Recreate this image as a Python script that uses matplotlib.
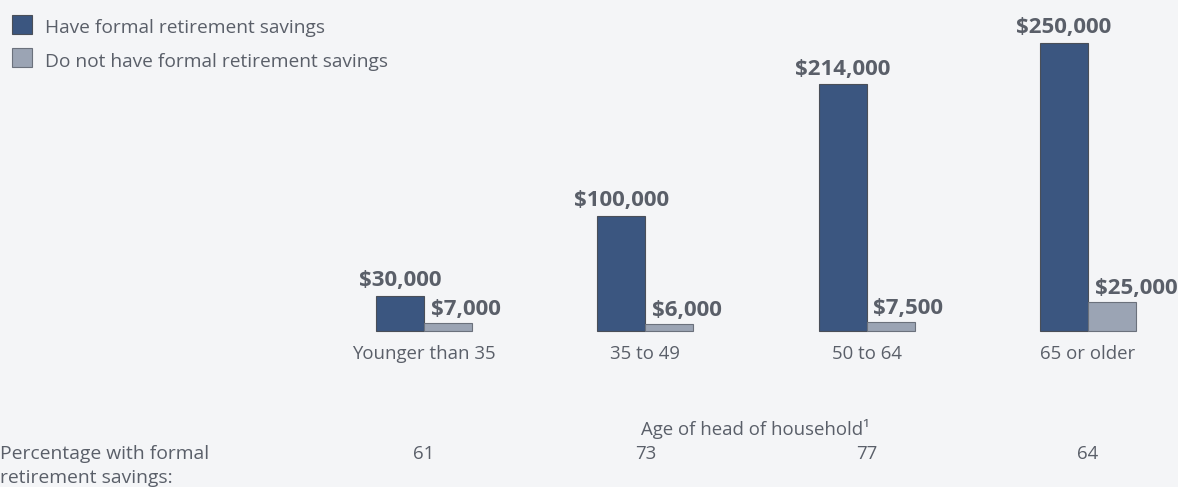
import numpy as np
import matplotlib
matplotlib.use('Agg')
import matplotlib.pyplot as plt

W, H = 1178, 487

categories = ['Younger than 35', '35 to 49', '50 to 64', '65 or older']
have_savings = [30000, 100000, 214000, 250000]
no_savings = [7000, 6000, 7500, 25000]
pct_with = [61, 73, 77, 64]

BG = '#f4f5f7'
DARK = '#3b5680'
LIGHT = '#9ba4b4'
TXT = '#5a5f69'

plt.rcParams['font.family'] = ['Open Sans', 'DejaVu Sans']
FS = 13.4

fig = plt.figure(figsize=(W / 100, H / 100), dpi=100, facecolor=BG)

# axes placed in pixel terms: group centres at 424..1088, baseline at y=331
ax_l, ax_r = 300, 1178
step = (1088 - 424) / 3
x0 = -(424 - ax_l) / step
x1 = 3 + (ax_r - 1088) / step
base_px = 331
top_px = 0
ax = fig.add_axes([ax_l / W, (H - base_px) / H, (ax_r - ax_l) / W, (base_px - top_px) / H])
ax.set_facecolor(BG)
ax.set_xlim(x0, x1)
ymax = 250000 * (base_px - top_px) / (331 - 43)
ax.set_ylim(0, ymax)

x = np.arange(len(categories))
bw = 48 / step
ax.bar(x - bw / 2, have_savings, bw, color=DARK, edgecolor='#4a4f58', linewidth=0.8, clip_on=False)
ax.bar(x + bw / 2, no_savings, bw, color=LIGHT, edgecolor='#6b717c', linewidth=0.8, clip_on=False)

for xi, v in zip(x, have_savings):
    ax.text(xi - bw / 2, v + ymax * 0.015, '${:,}'.format(v), ha='center', va='bottom',
            fontsize=16, fontweight='bold', color=TXT)
for xi, v in zip(x, no_savings):
    ax.text(xi + 0.03, v + ymax * 0.01, '${:,}'.format(v), ha='left', va='bottom',
            fontsize=16, fontweight='bold', color=TXT)

for s in ax.spines.values():
    s.set_visible(False)
ax.set_yticks([])
ax.set_xticks(x)
ax.set_xticklabels(categories, fontsize=FS, color=TXT)
ax.tick_params(axis='x', length=0, pad=10)

fig.text(755 / W, 1 - 429 / H, 'Age of head of household\u00b9', ha='center', va='center',
         fontsize=FS, color=TXT)

fig.text(0, 1 - 454 / H, 'Percentage with formal', ha='left', va='center', fontsize=FS + 0.5, color=TXT)
fig.text(0, 1 - 478 / H, 'retirement savings:', ha='left', va='center', fontsize=FS + 0.5, color=TXT)
for xi, p in zip(x, pct_with):
    px = 424 + xi * step
    fig.text(px / W, 1 - 454 / H, str(p), ha='center', va='center', fontsize=FS, color=TXT)

# legend
fig.patches.append(plt.Rectangle((12 / W, 1 - 34 / H), 20 / W, 19 / H, transform=fig.transFigure,
                                 facecolor=DARK, edgecolor='#4a4f58', linewidth=0.8))
fig.patches.append(plt.Rectangle((12 / W, 1 - 67 / H), 20 / W, 19 / H, transform=fig.transFigure,
                                 facecolor=LIGHT, edgecolor='#6b717c', linewidth=0.8))
fig.text(45 / W, 1 - 28 / H, 'Have formal retirement savings', ha='left', va='center',
         fontsize=13.8, color=TXT)
fig.text(45 / W, 1 - 62 / H, 'Do not have formal retirement savings', ha='left', va='center',
         fontsize=13.8, color=TXT)

fig.savefig('out.png', dpi=100, facecolor=BG)
